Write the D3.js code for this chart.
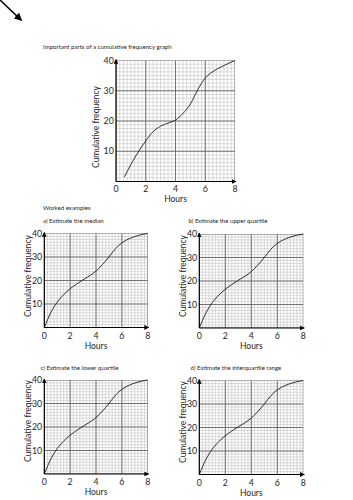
<!DOCTYPE html>
<html><head><meta charset="utf-8">
<script src="https://cdn.jsdelivr.net/npm/d3@7"></script>
<style>html,body{margin:0;padding:0;background:#fff;}svg{display:block;font-family:Lato,"Open Sans",sans-serif;}</style>
</head><body>
<script>
// ---- data ----
const hourTicks = [0, 2, 4, 6, 8];
const freqTicks = [10, 20, 30, 40];
const introHours = [0.56, 1, 1.5, 2, 2.5, 3, 3.5, 4, 4.5, 5, 5.5, 6, 6.5, 7, 7.5, 8];
const introFreq  = [1.5, 5.6, 9.8, 13.4, 16.5, 18.3, 19.3, 20.3, 22.5, 25.6, 30.4, 34.2, 36.3, 37.7, 38.9, 40];
const exHours = [0, 0.5, 1, 1.5, 2, 2.5, 3, 3.5, 4, 4.5, 5, 5.5, 6, 6.5, 7, 7.5, 8];
const exFreq  = [0, 6.3, 10.8, 14, 16.5, 18.5, 20.3, 22, 24, 26.8, 30, 33.5, 36, 37.6, 38.7, 39.5, 40];
const pageTitle = "Important parts of a cumulative frequency graph";
const sectionTitle = "Worked examples";
const exampleTitles = ["a) Estimate the median", "b) Estimate the upper quartile",
                       "c) Estimate the lower quartile", "d) Estimate the interquartile range"];
const xTitle = "Hours", yTitle = "Cumulative frequency";

const W = 353, H = 500;
const svg = d3.select("body").append("svg").attr("width", W).attr("height", H);
const defs = svg.append("defs");
defs.append("marker").attr("id","ah").attr("viewBox","0 0 10 10").attr("refX",9).attr("refY",5)
  .attr("markerWidth",4).attr("markerHeight",4).attr("orient","auto")
  .append("path").attr("d","M0,0L10,5L0,10z").attr("fill","#000");
defs.append("marker").attr("id","ahBig").attr("viewBox","0 0 10 10").attr("refX",8).attr("refY",5)
  .attr("markerWidth",5).attr("markerHeight",5).attr("orient","auto")
  .append("path").attr("d","M0,0L10,5L0,10z").attr("fill","#000");

const TXT = "#262626";
// corner arrow
svg.append("line").attr("x1",0).attr("y1",0).attr("x2",21).attr("y2",20)
  .attr("stroke","#000").attr("stroke-width",1.6).attr("marker-end","url(#ahBig)");

const titleSel = svg.append("text").attr("x",43).attr("y",49).attr("font-size",7).attr("fill",TXT).text(pageTitle);
const tw = titleSel.node().getComputedTextLength();
const smallFs = tw > 0 ? 7 * 129 / tw : 6.8;
titleSel.attr("font-size", smallFs);
svg.append("text").attr("x",43).attr("y",209.5).attr("font-size",smallFs).attr("fill",TXT).text(sectionTitle);

function panel(cfg, hours, freq, id) {
  const x = d3.scaleLinear().domain([0, 8]).range([cfg.x0, cfg.x1]);
  const y = d3.scaleLinear().domain([0, 40]).range([cfg.yb, cfg.yt]);
  const g = svg.append("g");
  g.append("clipPath").attr("id","c"+id).append("rect")
    .attr("x",cfg.x0).attr("y",cfg.yt).attr("width",cfg.x1-cfg.x0).attr("height",cfg.yb-cfg.yt);
  const grid = g.append("g").attr("clip-path","url(#c"+id+")");
  const minorX = d3.range(0, 8.001, 0.25), minorY = d3.range(0, 40.001, 1.25);
  grid.selectAll(".mx").data(minorX).join("line")
    .attr("x1",d=>x(d)).attr("x2",d=>x(d)).attr("y1",cfg.yt).attr("y2",cfg.yb)
    .attr("stroke","#b8b8b8").attr("stroke-width",0.5);
  grid.selectAll(".my").data(minorY).join("line")
    .attr("y1",d=>y(d)).attr("y2",d=>y(d)).attr("x1",cfg.x0).attr("x2",cfg.x1)
    .attr("stroke","#b8b8b8").attr("stroke-width",0.5);
  grid.selectAll(".Mx").data(hourTicks).join("line")
    .attr("x1",d=>x(d)).attr("x2",d=>x(d)).attr("y1",cfg.yt).attr("y2",cfg.yb)
    .attr("stroke","#666").attr("stroke-width",0.9);
  grid.selectAll(".My").data([0].concat(freqTicks)).join("line")
    .attr("y1",d=>y(d)).attr("y2",d=>y(d)).attr("x1",cfg.x0).attr("x2",cfg.x1)
    .attr("stroke","#666").attr("stroke-width",0.9);
  // curve
  const pts = hours.map((h,i)=>[h, freq[i]]);
  g.append("path").datum(pts)
    .attr("d", d3.line().x(d=>x(d[0])).y(d=>y(d[1])).curve(d3.curveMonotoneX))
    .attr("fill","none").attr("stroke","#1a1a1a").attr("stroke-width",0.9);
  // axes
  g.append("line").attr("x1",x(0)).attr("y1",y(0)).attr("x2",x(8)+1).attr("y2",y(0))
    .attr("stroke","#000").attr("stroke-width",1.2).attr("marker-end","url(#ah)");
  g.append("line").attr("x1",x(0)).attr("y1",y(0)).attr("x2",x(0)).attr("y2",y(40)-1)
    .attr("stroke","#000").attr("stroke-width",1.2).attr("marker-end","url(#ah)");
  // tick labels
  g.selectAll(".xl").data(hourTicks).join("text")
    .attr("x",d=>x(d)).attr("y",cfg.yb+cfg.ly).attr("text-anchor","middle")
    .attr("font-size",cfg.fs).attr("fill",TXT).text(d=>d);
  g.selectAll(".yl").data(freqTicks).join("text")
    .attr("x",cfg.x0-2.2).attr("y",d=>y(d)).attr("dy","0.35em").attr("text-anchor","end")
    .attr("font-size",cfg.fs).attr("fill",TXT).text(d=>d);
  g.append("text").attr("x",(cfg.x0+cfg.x1)/2).attr("y",cfg.yb+cfg.hy).attr("text-anchor","middle")
    .attr("font-size",cfg.afs).attr("fill",TXT).text(xTitle);
  g.append("text").attr("transform",`translate(${cfg.tx},${cfg.ty}) rotate(-90)`)
    .attr("text-anchor","middle").attr("dy","0.35em")
    .attr("font-size",cfg.afs).attr("fill",TXT).text(yTitle);
  if (cfg.title) g.append("text").attr("x",cfg.tlx).attr("y",cfg.tly).attr("font-size",smallFs)
    .attr("fill",TXT).text(cfg.title);
}

panel({x0:116, x1:235, yt:60.5, yb:181.5, fs:8.8, afs:8.5, ly:10, hy:20, tx:96.5, ty:127}, introHours, introFreq, 0);
const exCfg = [
  {x0:44.3, x1:147.7, yt:233.5, yb:327.5, tx:28.5, ty:276, tlx:43, tly:223},
  {x0:199.3, x1:303.3, yt:234, yb:328, tx:183.5, ty:276, tlx:188.5, tly:223},
  {x0:44.3, x1:147.7, yt:380, yb:474, tx:28.5, ty:421, tlx:40.5, tly:370},
  {x0:199.3, x1:303.3, yt:380.5, yb:474.5, tx:183.5, ty:422, tlx:190.5, tly:370}
];
exCfg.forEach((c,i)=>{ c.fs = 8.8; c.afs = 8.5; c.ly = 11; c.hy = 21; c.title = exampleTitles[i]; panel(c, exHours, exFreq, i+1); });
</script>
</body></html>
